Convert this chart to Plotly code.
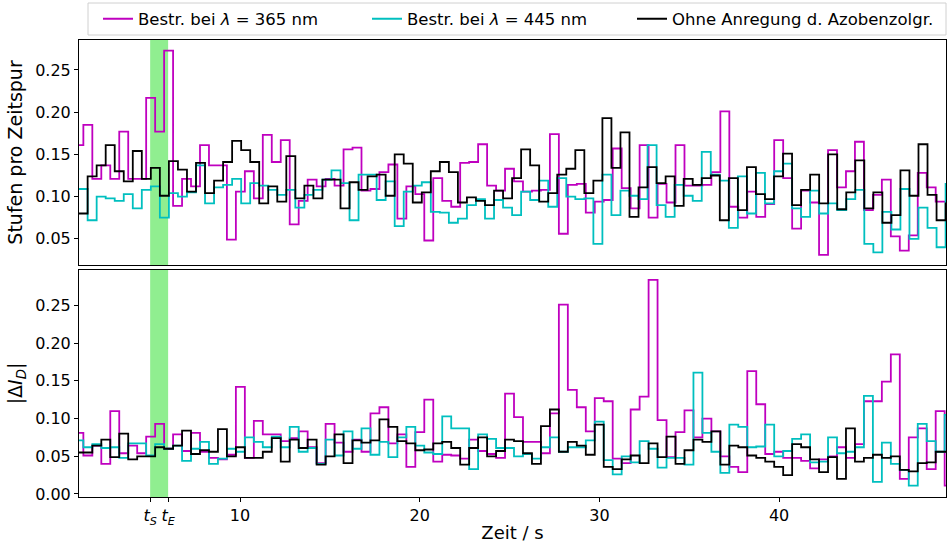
import plotly.graph_objects as go

# ---- time grids (s): start of first bin and bin width ----
T0_A, DT_A = 1.0174, 0.5026   # step counts, 445 nm and reference series
T0_B, DT_B = 0.7834, 0.4993   # step counts at 365 nm, and all |ΔI_D| series
T_S, T_E = 5.0, 6.0           # start / end of the excitation window

# ---- Stufen pro Zeitspur ----
stufen_365 = [0.161, 0.185, 0.121, 0.137, 0.121, 0.177, 0.121, 0.121, 0.217, 0.177,
              0.273, 0.089, 0.121, 0.112, 0.161, 0.137, 0.137, 0.049, 0.106, 0.130,
              0.098, 0.173, 0.141, 0.167, 0.067, 0.095, 0.120, 0.112, 0.121, 0.113,
              0.156, 0.158, 0.107, 0.109, 0.129, 0.138, 0.074, 0.112, 0.103, 0.048,
              0.122, 0.095, 0.088, 0.140, 0.141, 0.162, 0.113, 0.107, 0.133, 0.118,
              0.106, 0.107, 0.108, 0.174, 0.056, 0.114, 0.115, 0.081, 0.094, 0.096,
              0.157, 0.110, 0.086, 0.161, 0.075, 0.115, 0.093, 0.161, 0.113, 0.113,
              0.114, 0.129, 0.201, 0.088, 0.075, 0.106, 0.076, 0.091, 0.167, 0.122,
              0.062, 0.107, 0.093, 0.031, 0.155, 0.111, 0.130, 0.165, 0.084, 0.102,
              0.120, 0.053, 0.036, 0.054, 0.128, 0.111, 0.094, 0.094]

stufen_445 = [0.109, 0.072, 0.100, 0.098, 0.095, 0.103, 0.086, 0.108, 0.112, 0.075,
              0.104, 0.100, 0.105, 0.137, 0.092, 0.111, 0.114, 0.121, 0.092, 0.116,
              0.113, 0.108, 0.102, 0.108, 0.087, 0.102, 0.108, 0.120, 0.131, 0.116,
              0.072, 0.126, 0.126, 0.096, 0.118, 0.065, 0.106, 0.113, 0.117, 0.082,
              0.081, 0.069, 0.074, 0.090, 0.097, 0.074, 0.096, 0.087, 0.078, 0.106,
              0.096, 0.119, 0.088, 0.122, 0.100, 0.097, 0.098, 0.044, 0.126, 0.078,
              0.107, 0.101, 0.097, 0.161, 0.090, 0.076, 0.114, 0.101, 0.095, 0.153,
              0.126, 0.119, 0.063, 0.124, 0.080, 0.128, 0.092, 0.130, 0.139, 0.086,
              0.076, 0.107, 0.080, 0.092, 0.084, 0.097, 0.108, 0.044, 0.034, 0.082,
              0.061, 0.109, 0.050, 0.087, 0.063, 0.040, 0.115]

stufen_ohne = [0.080, 0.124, 0.137, 0.161, 0.130, 0.118, 0.154, 0.121, 0.134, 0.101,
               0.142, 0.132, 0.106, 0.140, 0.104, 0.119, 0.141, 0.166, 0.155, 0.141,
               0.092, 0.112, 0.094, 0.148, 0.098, 0.113, 0.098, 0.120, 0.120, 0.086,
               0.117, 0.108, 0.124, 0.126, 0.101, 0.150, 0.139, 0.093, 0.105, 0.130,
               0.141, 0.129, 0.093, 0.099, 0.095, 0.090, 0.107, 0.098, 0.122, 0.156,
               0.137, 0.094, 0.104, 0.126, 0.133, 0.155, 0.104, 0.119, 0.193, 0.134,
               0.176, 0.076, 0.111, 0.135, 0.116, 0.124, 0.089, 0.121, 0.114, 0.122,
               0.125, 0.072, 0.122, 0.084, 0.135, 0.103, 0.097, 0.124, 0.151, 0.090,
               0.108, 0.126, 0.092, 0.150, 0.085, 0.105, 0.143, 0.086, 0.105, 0.069,
               0.078, 0.131, 0.101, 0.162, 0.102, 0.072, 0.092]

# ---- |ΔI_D| ----
dI_365 = [0.081, 0.051, 0.064, 0.040, 0.110, 0.054, 0.064, 0.054, 0.076, 0.093,
          0.060, 0.079, 0.057, 0.081, 0.056, 0.048, 0.046, 0.052, 0.142, 0.048,
          0.097, 0.079, 0.079, 0.070, 0.074, 0.083, 0.062, 0.041, 0.093, 0.068,
          0.056, 0.072, 0.056, 0.107, 0.115, 0.067, 0.079, 0.036, 0.082, 0.125,
          0.043, 0.052, 0.051, 0.047, 0.072, 0.057, 0.053, 0.048, 0.133, 0.102,
          0.069, 0.069, 0.054, 0.107, 0.251, 0.138, 0.115, 0.083, 0.127, 0.123,
          0.047, 0.041, 0.112, 0.129, 0.284, 0.098, 0.049, 0.082, 0.111, 0.075,
          0.100, 0.083, 0.050, 0.036, 0.029, 0.163, 0.119, 0.053, 0.056, 0.048,
          0.048, 0.044, 0.034, 0.046, 0.050, 0.062, 0.048, 0.066, 0.123, 0.123,
          0.149, 0.185, 0.020, 0.075, 0.087, 0.033, 0.110, 0.011]

dI_445 = [0.071, 0.062, 0.066, 0.061, 0.062, 0.048, 0.067, 0.067, 0.051, 0.066,
          0.060, 0.064, 0.044, 0.060, 0.069, 0.040, 0.047, 0.060, 0.056, 0.075,
          0.069, 0.062, 0.076, 0.062, 0.089, 0.056, 0.061, 0.040, 0.072, 0.051,
          0.083, 0.060, 0.087, 0.052, 0.069, 0.049, 0.075, 0.089, 0.064, 0.055,
          0.053, 0.103, 0.087, 0.087, 0.033, 0.079, 0.073, 0.061, 0.061, 0.050,
          0.053, 0.047, 0.062, 0.075, 0.056, 0.062, 0.062, 0.071, 0.096, 0.045,
          0.026, 0.050, 0.042, 0.070, 0.060, 0.035, 0.048, 0.048, 0.039, 0.161,
          0.081, 0.056, 0.028, 0.092, 0.089, 0.062, 0.063, 0.092, 0.050, 0.057,
          0.073, 0.079, 0.042, 0.043, 0.075, 0.054, 0.056, 0.062, 0.130, 0.016,
          0.068, 0.040, 0.032, 0.011, 0.093, 0.070, 0.056, 0.105]

dI_ohne = [0.055, 0.055, 0.064, 0.072, 0.049, 0.080, 0.046, 0.050, 0.050, 0.062,
           0.060, 0.064, 0.084, 0.053, 0.058, 0.056, 0.086, 0.050, 0.062, 0.048,
           0.048, 0.056, 0.074, 0.043, 0.072, 0.061, 0.072, 0.039, 0.050, 0.079,
           0.041, 0.071, 0.068, 0.071, 0.099, 0.089, 0.070, 0.067, 0.058, 0.059,
           0.067, 0.069, 0.061, 0.039, 0.061, 0.075, 0.050, 0.057, 0.072, 0.070,
           0.054, 0.040, 0.090, 0.112, 0.056, 0.069, 0.064, 0.052, 0.092, 0.036,
           0.033, 0.046, 0.051, 0.041, 0.067, 0.049, 0.076, 0.040, 0.058, 0.072,
           0.069, 0.083, 0.039, 0.064, 0.062, 0.051, 0.048, 0.043, 0.036, 0.025,
           0.066, 0.062, 0.046, 0.029, 0.049, 0.020, 0.087, 0.043, 0.048, 0.052,
           0.048, 0.050, 0.032, 0.030, 0.041, 0.042, 0.056, 0.056]

LABELS = ["Bestr. bei <i>λ</i> = 365 nm", "Bestr. bei <i>λ</i> = 445 nm",
          "Ohne Anregung d. Azobenzolgr."]
COLORS = ["#bf00bf", "#00bfbf", "#000000"]
LEGENDS = ["legend", "legend2", "legend3"]

X_TICKS = [T_S, T_E, 10, 20, 30, 40]
X_TICKTEXT = ["<i>t</i><sub><i>S</i></sub>", "<i>t</i><sub><i>E</i></sub>",
              "10", "20", "30", "40"]

# figure geometry (px)
W, H = 947, 543
ML, MR, MT, MB = 79, 1, 40, 46
PW, PH = W - ML - MR, H - MT - MB


def px_x(px):
    return (px - ML) / PW


def px_y(py):
    return 1 + (MT - py) / PH


def steps(t0, dt, vals):
    """Bin edges plus a closing point so 'hv' draws every bin fully."""
    x = [t0 + dt * i for i in range(len(vals) + 1)]
    y = list(vals) + [vals[-1]]
    return x, y


fig = go.Figure()

top = [(T0_B, DT_B, stufen_365), (T0_A, DT_A, stufen_445), (T0_A, DT_A, stufen_ohne)]
bottom = [(T0_B, DT_B, dI_365), (T0_B, DT_B, dI_445), (T0_B, DT_B, dI_ohne)]

for i, (t0, dt, vals) in enumerate(top):
    x, y = steps(t0, dt, vals)
    fig.add_trace(go.Scatter(x=x, y=y, mode="lines", line_shape="hv",
                             line=dict(color=COLORS[i], width=1.8),
                             name=LABELS[i], legend=LEGENDS[i],
                             xaxis="x", yaxis="y"))
for i, (t0, dt, vals) in enumerate(bottom):
    x, y = steps(t0, dt, vals)
    fig.add_trace(go.Scatter(x=x, y=y, mode="lines", line_shape="hv",
                             line=dict(color=COLORS[i], width=1.8),
                             name=LABELS[i], showlegend=False,
                             xaxis="x2", yaxis="y2"))

# excitation window in both panels
for xref, yref in (("x", "y domain"), ("x2", "y2 domain")):
    fig.add_shape(type="rect", xref=xref, yref=yref,
                  x0=T_S, x1=T_E, y0=0, y1=1, fillcolor="#90ee90",
                  line=dict(width=0), layer="below")

# common frame around the three legend entries
fig.add_shape(type="rect", xref="paper", yref="paper",
              x0=px_x(88), x1=px_x(946), y0=px_y(35), y1=px_y(3),
              line=dict(color="#d0d0d0", width=1), fillcolor="white", layer="above")

FONT = "DejaVu Sans, sans-serif"
axis_common = dict(showgrid=False, zeroline=False, showline=True, mirror=True,
                   linecolor="#000000", linewidth=1, ticklen=4,
                   tickwidth=1, tickcolor="#000000",
                   tickfont=dict(family=FONT, size=16, color="#000000"))

X_RANGE = [1.04, 49.29]

legend_style = dict(orientation="h", yanchor="middle", y=px_y(19), xanchor="left",
                    bgcolor="rgba(0,0,0,0)", borderwidth=0,
                    font=dict(family=FONT, size=16.5, color="#000000"))

fig.update_layout(
    width=W, height=H,
    margin=dict(l=ML, r=MR, t=MT, b=MB, autoexpand=False),
    paper_bgcolor="white", plot_bgcolor="white",
    font=dict(family=FONT, color="#000000"),
    xaxis=dict(domain=[0, 1], anchor="y", range=X_RANGE, showticklabels=False,
               tickvals=X_TICKS, ticks="", **axis_common),
    xaxis2=dict(domain=[0, 1], anchor="y2", range=X_RANGE, matches="x",
                tickvals=X_TICKS, ticktext=X_TICKTEXT, ticks="outside",
                title=dict(text="Zeit / s", font=dict(family=FONT, size=18), standoff=4),
                **axis_common),
    yaxis=dict(domain=[0.5077, 1], anchor="x", range=[0.019, 0.2855],
               tickvals=[0.05, 0.10, 0.15, 0.20, 0.25], tickformat=".2f", ticks="outside",
               title=dict(text="Stufen pro Zeitspur", font=dict(family=FONT, size=19),
                          standoff=7),
               **axis_common),
    yaxis2=dict(domain=[0, 0.4967], anchor="x2", range=[-0.004, 0.297],
                tickvals=[0.0, 0.05, 0.10, 0.15, 0.20, 0.25], tickformat=".2f",
                ticks="outside",
                title=dict(text="|Δ<i>I</i><sub><i>D</i></sub>|",
                           font=dict(family=FONT, size=19), standoff=7),
                **axis_common),
    legend=dict(x=px_x(98), **legend_style),
    legend2=dict(x=px_x(367), **legend_style),
    legend3=dict(x=px_x(632), **legend_style),
    showlegend=True,
)

fig.write_html("out.html")
